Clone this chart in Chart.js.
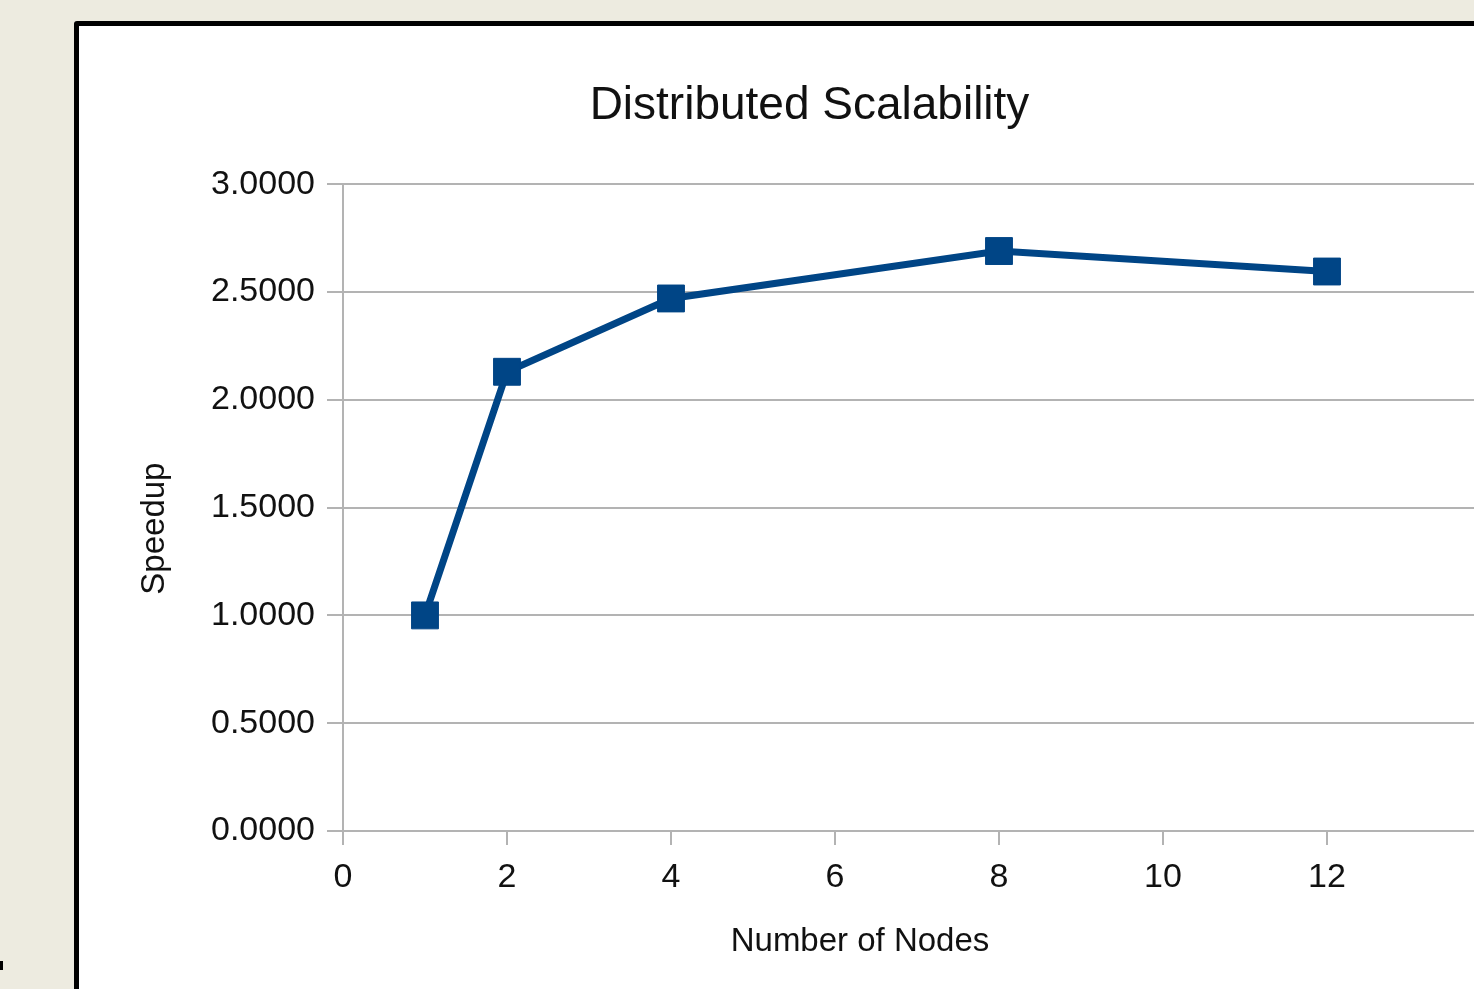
<!DOCTYPE html>
<html>
<head>
<meta charset="utf-8">
<script src="https://cdn.jsdelivr.net/npm/chart.js@4/dist/chart.umd.min.js"></script>
<style>
    html, body { margin: 0; padding: 0; overflow: hidden; }
    body { background: #edebe0; width: 1474px; height: 989px; position: relative; }
    #panel {
        position: absolute; left: 74px; top: 21px;
        width: 1500px; height: 1000px;
        background: #fff; border: 5px solid #000; border-radius: 3px;
    }
    #mark { position: absolute; left: 0; top: 961px; width: 3px; height: 9px; background: #000; }
    #wrap { position: absolute; left: 79px; top: 26px; width: 1461px; height: 970px; }
</style>
</head>
<body>
<div id="panel"></div>
<div id="mark"></div>
<div id="wrap"><canvas id="speedupChart"></canvas></div>
<script>
// data
var nodes = [1, 2, 4, 8, 12];
var speedup = [1.0, 2.13, 2.47, 2.69, 2.595];
var xTickStep = 2;
var yTickStep = 0.5;

var chartTitle = "Distributed Scalability";
var xTitle = "Number of Nodes";
var yTitle = "Speedup";

var fontFam = "'Liberation Sans', Arial, sans-serif";
var gridColor = '#b3b3b3';
var textColor = '#111';
var lineColor = '#004586';

// axis titles are placed like in the LibreOffice chart, not centred on the scales
var axisTitles = {
    id: 'axisTitles',
    afterDraw(chart) {
        var ctx = chart.ctx;
        var a = chart.chartArea;
        ctx.save();
        ctx.fillStyle = textColor;
        ctx.font = "33px " + fontFam;
        ctx.textAlign = 'center';
        ctx.textBaseline = 'middle';
        ctx.fillText(xTitle, a.left + 517, a.bottom + 111);
        ctx.translate(a.left - 188, (a.top + a.bottom) / 2 + 21);
        ctx.rotate(-Math.PI / 2);
        ctx.fillText(yTitle, 0, 0);
        ctx.restore();
    }
};

var ctx = document.getElementById('speedupChart').getContext('2d');
var chart = new Chart(ctx, {
    type: 'line',
    data: {
        datasets: [{
            label: yTitle,
            data: nodes.map(function (n, i) { return { x: n, y: speedup[i] }; }),
            borderColor: lineColor,
            backgroundColor: lineColor,
            borderWidth: 7,
            pointStyle: 'rect',
            pointRadius: 19,
            pointBorderWidth: 1,
            pointBorderColor: lineColor,
            pointBackgroundColor: lineColor,
            tension: 0
        }]
    },
    options: {
        responsive: true,
        maintainAspectRatio: false,
        animation: false,
        layout: { padding: { left: 49, right: 49, top: 0, bottom: 0 } },
        plugins: {
            legend: { display: false },
            tooltip: { enabled: false },
            title: {
                display: true,
                text: chartTitle,
                color: textColor,
                font: { family: fontFam, size: 46, weight: 'normal' },
                padding: { top: 53, bottom: 50 }
            }
        },
        scales: {
            x: {
                type: 'linear',
                min: 0,
                max: 14,
                afterFit: function (s) { s.height = 165; },
                border: { display: true, color: gridColor, width: 2 },
                grid: { drawOnChartArea: false, drawTicks: true, tickLength: 14, color: gridColor, lineWidth: 2 },
                ticks: {
                    stepSize: xTickStep,
                    color: textColor,
                    padding: 12,
                    maxRotation: 0,
                    font: { family: fontFam, size: 34 }
                }
            },
            y: {
                min: 0,
                max: 3,
                afterFit: function (s) { s.width = 215; },
                border: { display: true, color: gridColor, width: 2 },
                grid: { drawTicks: true, tickLength: 16, color: gridColor, lineWidth: 2 },
                ticks: {
                    stepSize: yTickStep,
                    color: textColor,
                    padding: 12,
                    font: { family: fontFam, size: 34 },
                    callback: function (v) { return Number(v).toFixed(4); }
                }
            }
        }
    },
    plugins: [axisTitles]
});
</script>
</body>
</html>
